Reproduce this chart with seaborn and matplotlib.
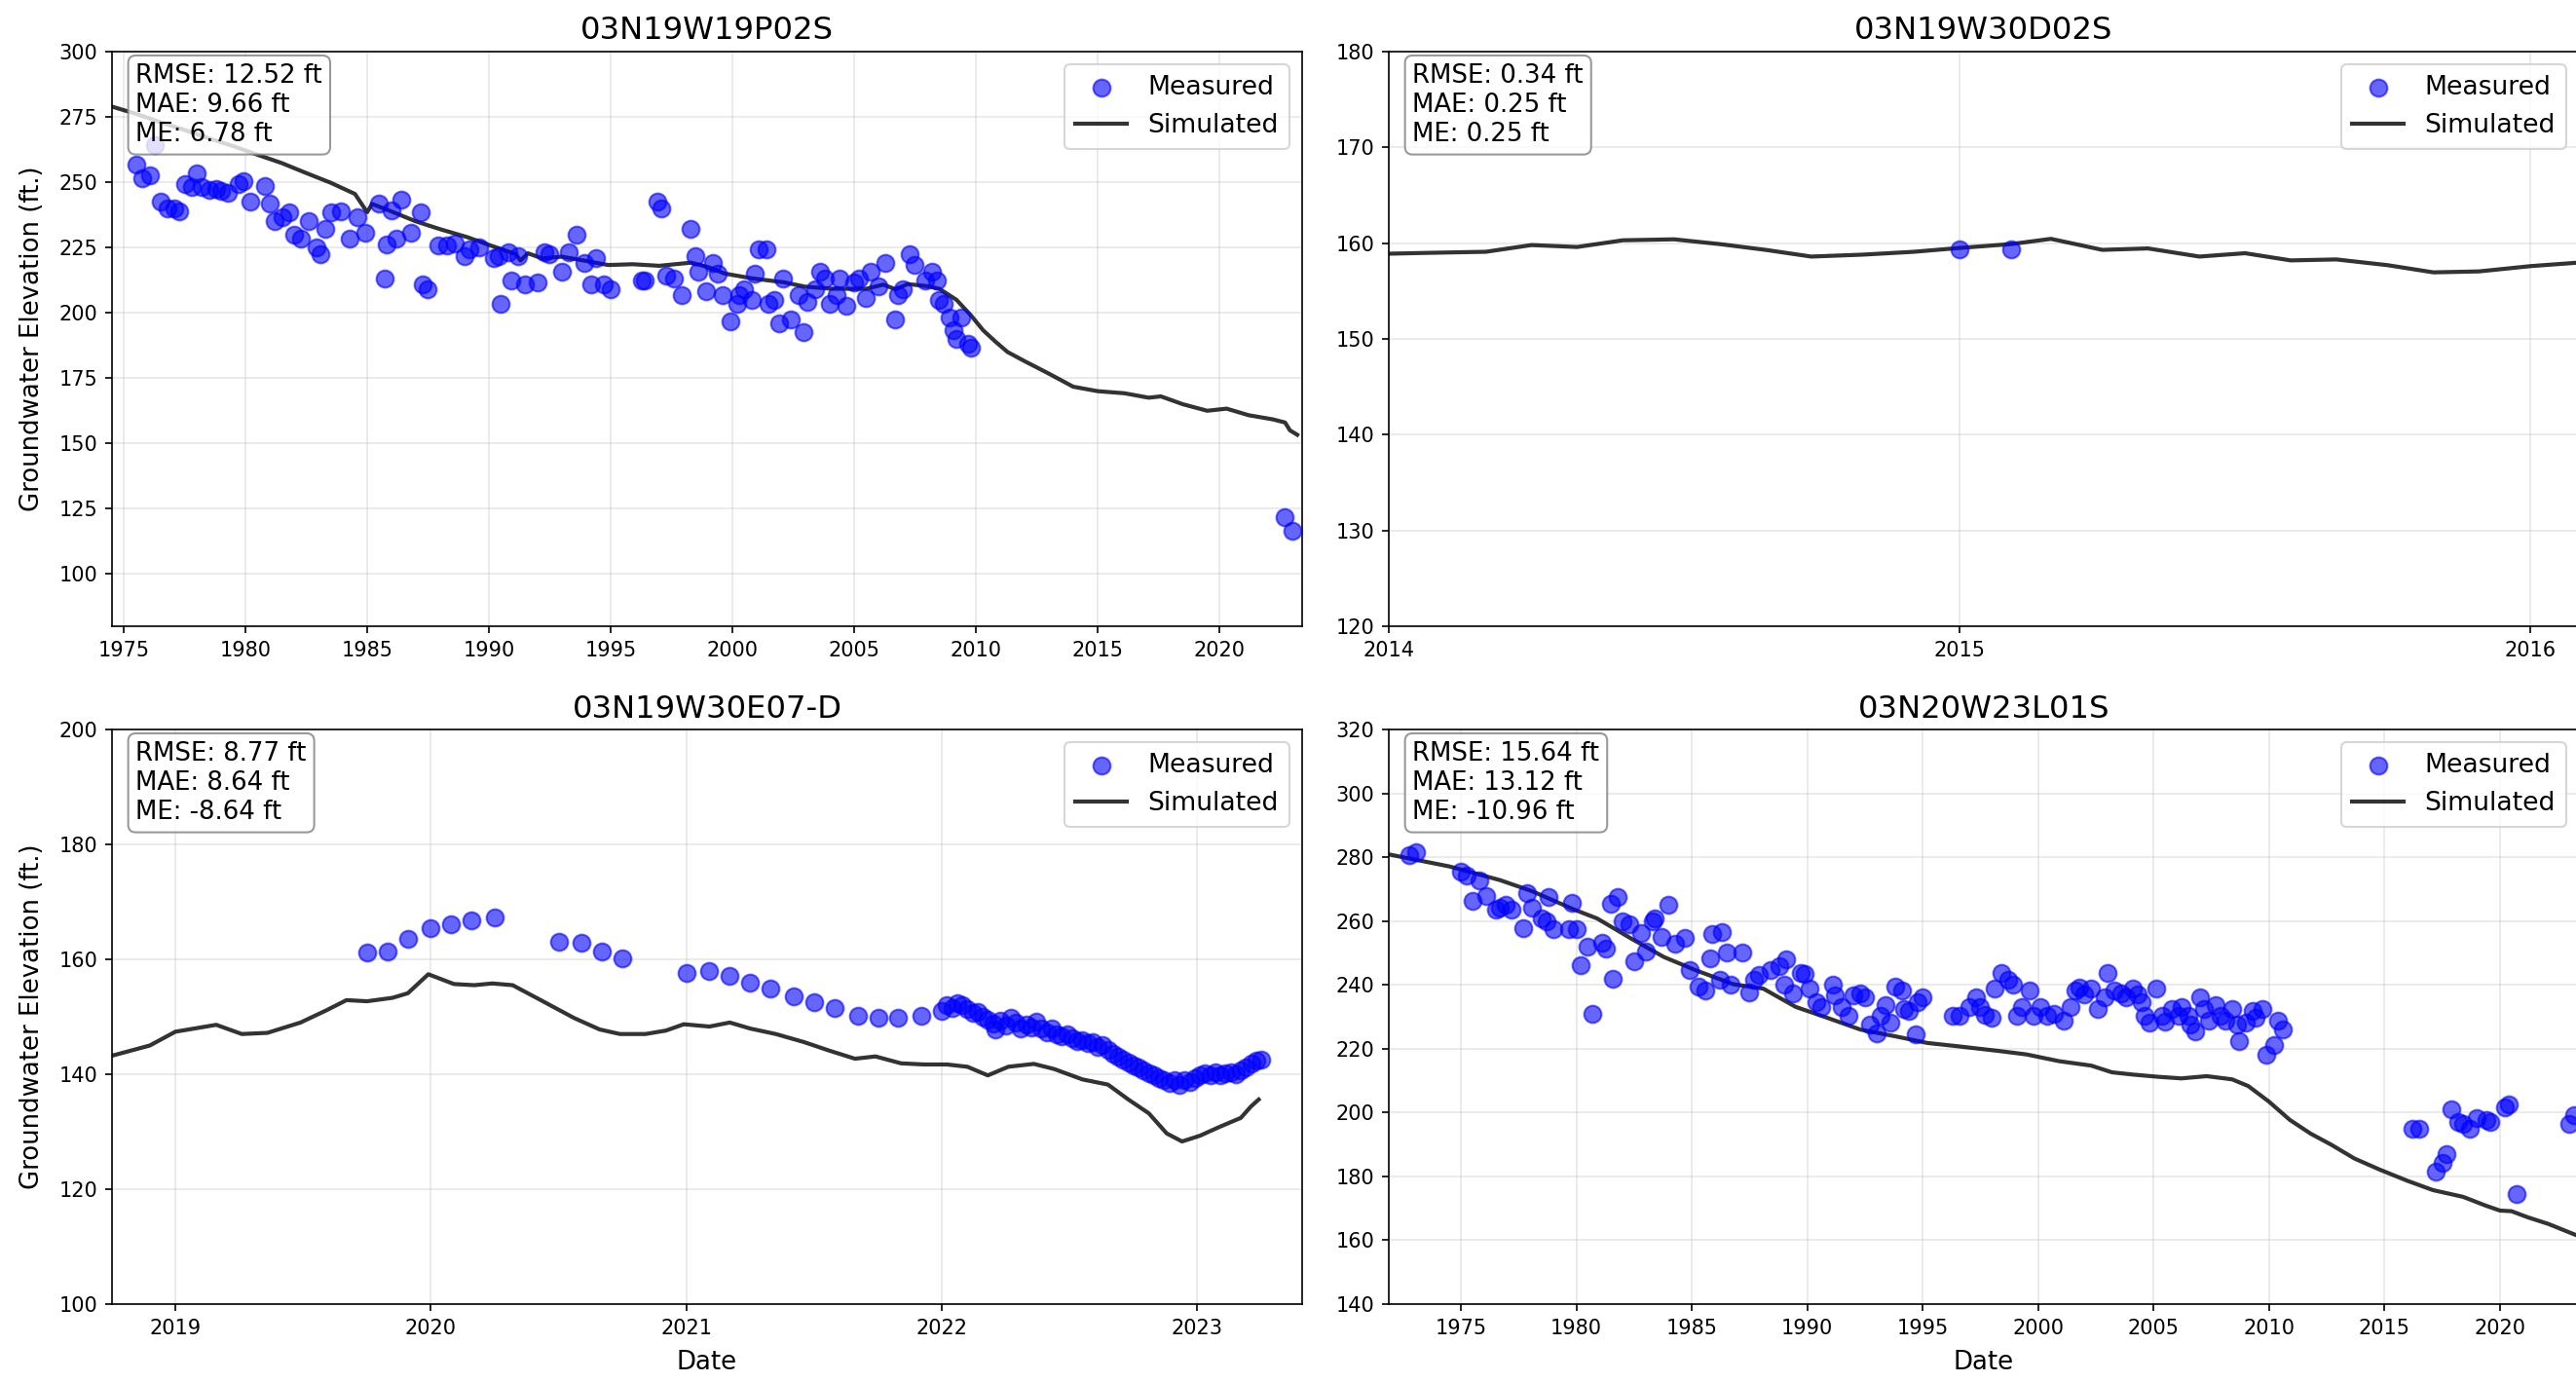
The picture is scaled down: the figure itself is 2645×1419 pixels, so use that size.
"""Measured vs simulated groundwater elevations at four wells."""
import numpy as np
import matplotlib
matplotlib.use("Agg")
import matplotlib.pyplot as plt
import seaborn as sns

# ─── data (decimal years, ft) ───

well_names = ["03N19W19P02S", "03N19W30D02S", "03N19W30E07-D", "03N20W23L01S"]
stats_text = [
    "RMSE: 12.52 ft\nMAE: 9.66 ft\nME: 6.78 ft",
    "RMSE: 0.34 ft\nMAE: 0.25 ft\nME: 0.25 ft",
    "RMSE: 8.77 ft\nMAE: 8.64 ft\nME: -8.64 ft",
    "RMSE: 15.64 ft\nMAE: 13.12 ft\nME: -10.96 ft",
]

# well 1 : 03N19W19P02S
sim1_t = [1974.5, 1975.5, 1976.5, 1977.5, 1978.5, 1979.5, 1980.5, 1981.5, 1982.5, 1983.5,
          1984.5, 1985.0, 1985.2, 1986.0, 1987.0, 1988.0, 1989.1, 1990.0, 1991.1, 1991.3,
          1991.6, 1992.2, 1993.0, 1993.9, 1994.9, 1995.9, 1997.0, 1998.3, 1999.0, 1999.7,
          2000.8, 2002.1, 2003.0, 2004.1, 2005.5, 2006.2, 2006.7, 2007.2, 2008.0, 2008.5,
          2009.2, 2009.8, 2010.3, 2010.8, 2011.3, 2012.0, 2013.0, 2014.0, 2015.0, 2016.1,
          2017.1, 2017.6, 2018.5, 2019.5, 2020.3, 2021.2, 2022.2, 2022.7, 2022.9, 2023.2]
sim1_h = [279.0, 276.2, 273.0, 270.0, 266.8, 263.8, 260.5, 257.3, 253.5, 249.8,
          245.5, 238.5, 241.7, 238.8, 235.0, 232.0, 229.0, 226.0, 222.5, 220.0,
          222.8, 220.8, 221.5, 220.0, 218.3, 218.6, 218.0, 219.2, 217.5, 215.0,
          213.2, 211.7, 210.0, 209.2, 209.2, 210.8, 209.0, 211.0, 210.2, 209.2,
          205.0, 199.0, 193.3, 189.0, 185.0, 181.5, 176.7, 171.7, 170.0, 169.2,
          167.5, 168.0, 165.0, 162.5, 163.3, 160.8, 159.2, 158.0, 155.0, 153.3]

meas1_t = [1975.5, 1975.75, 1976.1, 1976.3, 1976.5, 1976.8, 1977.1, 1977.3, 1977.5, 1977.8,
           1978.0, 1978.2, 1978.5, 1978.8, 1979.0, 1979.3, 1979.7, 1979.9, 1980.2, 1980.8,
           1981.0, 1981.2, 1981.5, 1981.8, 1982.0, 1982.3, 1982.6, 1982.9, 1983.1, 1983.3,
           1983.5, 1983.9, 1984.3, 1984.6, 1984.9, 1985.5, 1985.7, 1985.8, 1986.0, 1986.2,
           1986.4, 1986.8, 1987.2, 1987.3, 1987.5, 1987.9, 1988.3, 1988.6, 1989.0, 1989.2,
           1989.6, 1990.2, 1990.4, 1990.5, 1990.8, 1990.9, 1991.2, 1991.5, 1992.0, 1992.3,
           1992.5, 1993.0, 1993.3, 1993.6, 1993.9, 1994.2, 1994.4, 1994.7, 1995.0, 1996.3,
           1996.4, 1996.9, 1997.1, 1997.3, 1997.6, 1997.9, 1998.3, 1998.5, 1998.6, 1998.9,
           1999.2, 1999.4, 1999.6, 1999.9, 2000.2, 2000.3, 2000.5, 2000.8, 2000.9, 2001.1,
           2001.4, 2001.5, 2001.7, 2001.9, 2002.1, 2002.4, 2002.7, 2002.9, 2003.1, 2003.4,
           2003.6, 2003.8, 2004.0, 2004.3, 2004.4, 2004.7, 2005.0, 2005.2, 2005.5, 2005.7,
           2006.0, 2006.3, 2006.7, 2006.8, 2007.0, 2007.3, 2007.5, 2007.9, 2008.2, 2008.4,
           2008.5, 2008.7, 2008.9, 2009.1, 2009.2, 2009.4, 2009.7, 2009.8, 2022.7, 2023.0]
meas1_h = [256.7, 251.7, 252.5, 264.2, 242.5, 240.0, 240.0, 238.7, 249.2, 248.3,
           253.3, 248.3, 247.0, 247.5, 246.7, 245.8, 249.2, 250.3, 242.5, 248.7,
           242.0, 235.0, 236.7, 238.3, 230.0, 228.3, 235.0, 225.0, 222.5, 232.0,
           238.3, 238.7, 228.3, 236.7, 230.8, 241.7, 213.3, 226.2, 239.2, 228.3,
           243.3, 230.8, 238.3, 210.8, 209.2, 225.8, 225.8, 226.7, 221.7, 224.2,
           225.0, 220.8, 221.7, 203.3, 223.3, 212.5, 221.7, 210.8, 211.7, 223.3,
           222.5, 215.8, 223.3, 230.0, 219.2, 210.8, 220.8, 210.8, 209.2, 212.5,
           212.5, 242.5, 240.0, 214.2, 213.3, 206.7, 232.0, 221.7, 215.8, 208.3,
           219.2, 215.0, 206.7, 196.7, 203.3, 206.7, 209.2, 205.0, 215.0, 224.2,
           224.2, 203.3, 205.0, 195.8, 213.3, 197.5, 206.7, 192.5, 204.2, 209.2,
           215.8, 213.3, 203.3, 206.7, 213.3, 202.5, 211.7, 213.3, 205.8, 215.8,
           210.0, 219.2, 197.5, 206.7, 209.2, 222.5, 218.3, 212.5, 215.8, 212.5,
           205.0, 203.3, 198.3, 193.3, 190.0, 198.3, 188.3, 186.7, 121.7, 116.7]

# well 2 : 03N19W30D02S
sim2_t = [2014.0, 2014.08, 2014.17, 2014.25, 2014.33, 2014.41, 2014.5, 2014.58, 2014.66, 2014.74,
          2014.83, 2014.92, 2015.0, 2015.09, 2015.16, 2015.25, 2015.33, 2015.42, 2015.5, 2015.58,
          2015.66, 2015.75, 2015.83, 2015.91, 2016.0, 2016.08, 2016.17]
sim2_h = [158.9, 159.0, 159.1, 159.8, 159.6, 160.3, 160.4, 159.9, 159.3, 158.6,
          158.8, 159.1, 159.5, 159.9, 160.45, 159.3, 159.45, 158.6, 158.95, 158.2,
          158.3, 157.7, 156.95, 157.05, 157.6, 157.95, 158.2]
meas2_t = [2015.0, 2015.09]
meas2_h = [159.4, 159.4]

# well 3 : 03N19W30E07-D
sim3_t = [2018.75, 2018.9, 2019.0, 2019.16, 2019.26, 2019.36, 2019.49, 2019.59, 2019.67, 2019.75,
          2019.85, 2019.91, 2019.99, 2020.09, 2020.17, 2020.24, 2020.32, 2020.43, 2020.56, 2020.66,
          2020.74, 2020.84, 2020.92, 2020.99, 2021.09, 2021.17, 2021.25, 2021.35, 2021.46, 2021.56,
          2021.66, 2021.74, 2021.84, 2021.93, 2022.02, 2022.1, 2022.18, 2022.26, 2022.36, 2022.44,
          2022.55, 2022.65, 2022.73, 2022.81, 2022.88, 2022.94, 2023.01, 2023.09, 2023.17, 2023.21,
          2023.24]
sim3_h = [143.2, 145.0, 147.4, 148.6, 147.0, 147.2, 149.0, 151.1, 152.9, 152.7,
          153.3, 154.1, 157.4, 155.7, 155.5, 155.8, 155.5, 152.9, 149.8, 147.8,
          147.0, 147.0, 147.6, 148.7, 148.3, 149.0, 147.95, 147.0, 145.6, 144.1,
          142.7, 143.1, 141.9, 141.7, 141.7, 141.3, 139.8, 141.3, 141.8, 140.9,
          139.1, 138.2, 135.6, 133.2, 129.7, 128.3, 129.3, 130.9, 132.4, 134.4,
          135.6]
meas3_t = [2019.75, 2019.83, 2019.91, 2020.0, 2020.08, 2020.16, 2020.25, 2020.5, 2020.59, 2020.67,
           2020.75, 2021.0, 2021.09, 2021.17, 2021.25, 2021.33, 2021.42, 2021.5, 2021.58, 2021.67,
           2021.75, 2021.83, 2021.92,
           2022.00, 2022.02, 2022.04, 2022.06, 2022.08, 2022.10, 2022.12, 2022.14, 2022.16, 2022.18,
           2022.20, 2022.21, 2022.23, 2022.25, 2022.27, 2022.29, 2022.31, 2022.33, 2022.35, 2022.37,
           2022.39, 2022.41, 2022.43, 2022.45, 2022.47, 2022.49, 2022.51, 2022.53, 2022.55, 2022.57,
           2022.59, 2022.61, 2022.63, 2022.65, 2022.67, 2022.69, 2022.71, 2022.73, 2022.75, 2022.77,
           2022.79, 2022.81, 2022.83, 2022.85, 2022.87, 2022.89, 2022.91, 2022.93, 2022.95, 2022.97,
           2022.99, 2023.01, 2023.03, 2023.05, 2023.07, 2023.09, 2023.11, 2023.13, 2023.15, 2023.17,
           2023.19, 2023.21, 2023.23, 2023.25]
meas3_h = [161.2, 161.3, 163.5, 165.5, 166.1, 166.7, 167.3, 163.1, 162.8, 161.4,
           160.2, 157.6, 157.9, 157.1, 156.0, 154.9, 153.6, 152.5, 151.6, 150.2,
           149.8, 149.8, 150.2,
           151.0, 152.0, 151.5, 152.3, 152.0, 151.3, 150.6, 150.9, 150.0, 149.5,
           148.8, 147.8, 149.4, 148.5, 149.8, 148.9, 147.9, 148.7, 148.2, 149.1,
           148.0, 147.3, 147.9, 147.0, 146.6, 146.9, 146.2, 145.8, 146.0, 145.4,
           145.6, 144.8, 145.0, 144.3, 143.6, 143.0, 142.6, 142.1, 141.6, 141.2,
           140.6, 140.2, 139.9, 139.4, 139.0, 138.5, 139.0, 138.2, 138.9, 138.6,
           139.4, 139.9, 140.2, 139.8, 140.3, 139.9, 140.1, 140.4, 140.0, 140.6,
           141.2, 141.9, 142.4, 142.6]

# well 4 : 03N20W23L01S
sim4_t = [1971.86, 1974.5, 1976.7, 1978.1, 1979.9, 1980.9, 1982.4, 1983.8, 1985.2, 1986.8,
          1988.1, 1989.5, 1990.9, 1992.3, 1993.8, 1995.2, 1996.6, 1998.4, 1999.5, 2000.9,
          2002.3, 2003.2, 2004.1, 2005.2, 2006.2, 2007.3, 2008.4, 2009.1, 2010.0, 2010.9,
          2011.8, 2012.7, 2013.7, 2014.8, 2016.0, 2017.1, 2018.4, 2019.4, 2020.0, 2020.5,
          2021.2, 2022.1, 2023.3]
sim4_h = [280.9, 277.1, 272.8, 269.3, 263.6, 260.8, 254.4, 248.7, 244.5, 240.2,
          238.8, 233.1, 229.6, 226.0, 223.9, 221.8, 220.7, 219.2, 218.2, 216.1,
          214.7, 212.6, 211.9, 211.2, 210.7, 211.4, 210.4, 208.3, 203.4, 197.7,
          193.4, 189.9, 185.6, 182.1, 178.6, 175.7, 173.6, 170.8, 169.3, 169.1,
          167.2, 165.1, 161.6]
meas4_t = [1972.76, 1973.04, 1975.0, 1975.25, 1975.5, 1975.8, 1976.1, 1976.5, 1976.7, 1976.96,
           1977.2, 1977.7, 1977.85, 1978.1, 1978.5, 1978.7, 1978.8, 1979.0, 1979.7, 1979.8,
           1980.0, 1980.2, 1980.5, 1980.7, 1981.1, 1981.3, 1981.5, 1981.6, 1981.8, 1982.0,
           1982.3, 1982.5, 1982.8, 1983.0, 1983.3, 1983.4, 1983.7, 1984.0, 1984.3, 1984.7,
           1984.9, 1985.3, 1985.6, 1985.8, 1985.9, 1986.3, 1986.2, 1986.5, 1986.7, 1987.2,
           1987.5, 1987.7, 1987.9, 1988.4, 1988.8, 1989.0, 1989.1, 1989.4, 1989.7, 1989.9,
           1990.1, 1990.4, 1990.6, 1991.1, 1991.2, 1991.5, 1991.8, 1992.0, 1992.3, 1992.5,
           1992.7, 1993.0, 1993.2, 1993.4, 1993.6, 1993.8, 1994.1, 1994.2, 1994.4, 1994.7,
           1994.8, 1995.0, 1996.3, 1996.6, 1997.0, 1997.3, 1997.5, 1997.7, 1998.0, 1998.1,
           1998.4, 1998.7, 1998.9, 1999.1, 1999.3, 1999.65, 1999.8, 2000.1, 2000.4, 2000.7,
           2001.1, 2001.4, 2001.6, 2001.8, 2002.0, 2002.3, 2002.6, 2002.9, 2003.0, 2003.3,
           2003.6, 2003.8, 2004.1, 2004.3, 2004.5, 2004.6, 2004.8, 2005.1, 2005.35, 2005.5,
           2005.8, 2006.1, 2006.2, 2006.5, 2006.6, 2006.8, 2007.0, 2007.2, 2007.4, 2007.7,
           2007.9, 2008.1, 2008.4, 2008.6, 2008.7, 2009.0, 2009.3, 2009.4, 2009.7, 2009.9,
           2010.2, 2010.4, 2010.6, 2016.2, 2016.5, 2017.2, 2017.5, 2017.7, 2017.9, 2018.2,
           2018.4, 2018.7, 2019.0, 2019.4, 2019.6, 2020.2, 2020.4, 2020.7, 2023.0, 2023.2]
meas4_h = [280.6, 281.7, 275.6, 274.2, 266.4, 272.8, 267.8, 263.6, 264.3, 265.0,
           263.6, 257.9, 268.6, 264.3, 260.8, 260.0, 267.6, 257.5, 257.5, 265.7,
           257.5, 246.2, 252.0, 231.0, 253.2, 251.5, 265.3, 241.9, 267.6, 259.8,
           258.9, 247.3, 256.1, 250.4, 260.0, 260.8, 255.1, 265.0, 253.0, 254.7,
           244.7, 239.5, 238.1, 248.3, 255.8, 256.5, 241.6, 250.1, 240.2, 250.1,
           237.7, 241.6, 243.0, 244.5, 245.9, 240.2, 248.0, 237.4, 243.8, 243.3,
           238.8, 234.5, 233.1, 240.2, 236.7, 233.1, 230.3, 236.7, 237.4, 236.0,
           227.5, 224.9, 230.3, 233.8, 228.2, 239.5, 238.1, 232.4, 231.7, 224.6,
           234.5, 236.0, 230.3, 230.3, 233.1, 236.0, 233.1, 230.6, 229.6, 238.8,
           243.8, 241.6, 240.2, 230.3, 233.1, 238.1, 230.3, 233.1, 230.3, 231.0,
           228.9, 233.1, 238.1, 239.1, 237.1, 238.8, 232.4, 236.2, 243.8, 238.1,
           237.4, 236.2, 238.8, 237.1, 234.5, 230.3, 228.2, 238.8, 230.3, 228.6,
           232.4, 230.3, 233.1, 230.3, 227.5, 225.3, 236.0, 232.4, 228.9, 233.8,
           230.3, 228.9, 232.4, 227.5, 222.5, 228.2, 231.7, 229.6, 232.4, 218.2,
           221.1, 228.9, 226.0, 194.9, 194.9, 181.4, 184.2, 187.0, 200.9, 197.0,
           196.3, 194.9, 198.4, 197.7, 197.0, 201.7, 202.4, 174.6, 196.3, 199.1]

# axis limits and ticks
xlims = [(1974.52, 2023.4), (2014.0, 2016.085), (2018.752, 2023.41), (1971.88, 2023.42)]
ylims = [(80, 300), (120, 180), (100, 200), (140, 320)]
xticks = [[1975, 1980, 1985, 1990, 1995, 2000, 2005, 2010, 2015, 2020],
          [2014, 2015, 2016],
          [2019, 2020, 2021, 2022, 2023],
          [1975, 1980, 1985, 1990, 1995, 2000, 2005, 2010, 2015, 2020]]
yticks = [[100, 125, 150, 175, 200, 225, 250, 275, 300],
          [120, 130, 140, 150, 160, 170, 180],
          [100, 120, 140, 160, 180, 200],
          [140, 160, 180, 200, 220, 240, 260, 280, 300, 320]]

measured = [(meas1_t, meas1_h), (meas2_t, meas2_h), (meas3_t, meas3_h), (meas4_t, meas4_h)]
simulated = [(sim1_t, sim1_h), (sim2_t, sim2_h), (sim3_t, sim3_h), (sim4_t, sim4_h)]

# ─── figure ───

W, H, DPI = 2645, 1419, 150
fig = plt.figure(figsize=(W / DPI, H / DPI), dpi=DPI)

# axes boxes in pixels: (left, top, right, bottom)
boxes = [(115, 53, 1337, 643), (1426, 53, 2648, 643),
         (115, 749, 1337, 1339), (1426, 749, 2648, 1339)]

for i, (l, t, r, b) in enumerate(boxes):
    ax = fig.add_axes([l / W, (H - b) / H, (r - l) / W, (b - t) / H])
    mt, mh = measured[i]
    st, sh = simulated[i]
    sns.scatterplot(x=np.array(mt), y=np.array(mh), ax=ax, color="blue", alpha=0.6,
                    s=72, edgecolor="blue", linewidth=1.0, label="Measured", zorder=3)
    sns.lineplot(x=np.array(st), y=np.array(sh), ax=ax, color="black", alpha=0.8,
                 linewidth=2, label="Simulated", estimator=None, sort=False, zorder=2)

    ax.set_xlim(*xlims[i])
    ax.set_ylim(*ylims[i])
    ax.set_xticks(xticks[i])
    ax.set_xticklabels([str(v) for v in xticks[i]])
    ax.set_yticks(yticks[i])
    ax.tick_params(labelsize=10)
    ax.grid(True, alpha=0.3)
    ax.set_axisbelow(True)

    ax.set_title(well_names[i], fontsize=15.5)
    ax.set_ylabel("Groundwater Elevation (ft.)" if i % 2 == 0 else "", fontsize=12.5,
                  labelpad=7)
    ax.set_xlabel("Date" if i >= 2 else "", fontsize=12.5, labelpad=6)

    ax.text(0.02, 0.98, stats_text[i], transform=ax.transAxes, fontsize=12.5,
            va="top", ha="left",
            bbox=dict(boxstyle="round", facecolor="white", edgecolor="gray", alpha=0.8))
    ax.legend(loc="upper right", fontsize=12.8)

fig.savefig("out.png", dpi=DPI)
plt.close()
print("saved out.png")
